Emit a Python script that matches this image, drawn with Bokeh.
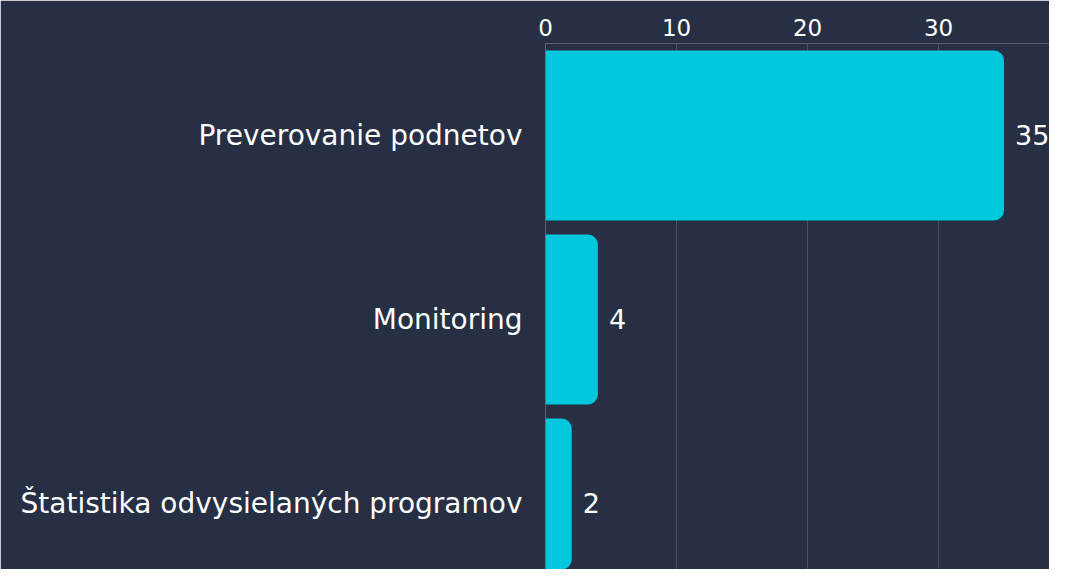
from bokeh.plotting import figure
from bokeh.models import ColumnDataSource, Range1d, FixedTicker
from bokeh.core.properties import value
from bokeh.embed import file_html
from bokeh.resources import INLINE

categories = ["Preverovanie podnetov", "Monitoring", "Štatistika odvysielaných programov"]
values = [35, 4, 2]
x_ticks = [0, 10, 20, 30]

BG = "#262f43"
BAR = "#00c8dc"
FONT = "DejaVu Sans"

pos = [i + 0.5 for i in range(len(categories))]
src = ColumnDataSource(dict(y=pos, v=values, lbl=[str(v) for v in values], cat=categories))

p = figure(width=1049, height=569, output_backend="svg", toolbar_location=None,
           x_range=Range1d(0, 38.47), y_range=Range1d(2.859, 0),
           x_axis_location="above", min_border_left=545, min_border_right=0,
           min_border_bottom=0, min_border_top=43)
p.background_fill_color = BG
p.border_fill_color = BG
p.outline_line_color = None

p.hbar(y="y", left=0, right="v", height=0.924, source=src, color=BAR,
       line_color=None, border_radius=(0, 10, 10, 0))

p.text(x="v", y="y", text="lbl", source=src, x_offset=11, text_align="left",
       text_baseline="middle", text_color="white", text_font=value(FONT),
       text_font_size="27px")

xa = p.xaxis[0]
xa.ticker = FixedTicker(ticks=x_ticks)
xa.axis_line_color = None
xa.major_tick_line_color = None
xa.minor_tick_line_color = None
xa.major_tick_out = 0
xa.major_tick_in = 0
xa.minor_tick_out = 0
xa.major_label_text_color = "white"
xa.major_label_text_font = FONT
xa.major_label_text_font_size = "23px"
xa.major_label_standoff = 8

ya = p.yaxis[0]
ya.ticker = FixedTicker(ticks=pos)
ya.major_label_overrides = {pp: c for pp, c in zip(pos, categories)}
ya.axis_line_color = None
ya.major_tick_line_color = None
ya.minor_tick_line_color = None
ya.major_tick_out = 0
ya.major_tick_in = 0
ya.minor_tick_out = 0
ya.major_label_text_color = "white"
ya.major_label_text_font = FONT
ya.major_label_text_font_size = "28px"
ya.major_label_standoff = 23

p.xgrid.ticker = FixedTicker(ticks=x_ticks)
p.xgrid.grid_line_color = "#4a5164"
p.xgrid.grid_line_width = 1
p.ygrid.grid_line_color = None

open("out.html", "w").write(file_html(p, INLINE))
